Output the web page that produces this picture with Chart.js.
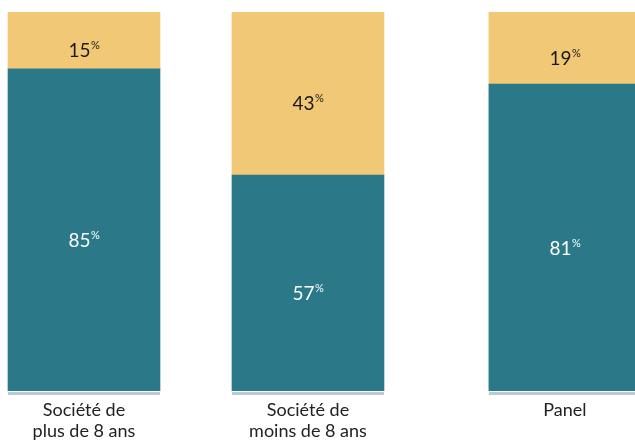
<!DOCTYPE html>
<html>
<head>
<meta charset="utf-8">
<script src="https://cdn.jsdelivr.net/npm/chart.js@4/dist/chart.umd.min.js"></script>
<style>
  html, body { margin: 0; padding: 0; background: #fff; overflow: hidden; }
  #wrap { width: 635px; height: 441px; }
</style>
</head>
<body>
<div id="wrap"><canvas id="chart" width="635" height="441"></canvas></div>
<script>
// ---- Data ----
const categories = [['Société de', 'plus de 8 ans'], ['Société de', 'moins de 8 ans'], ['Panel']];
const teal   = [85, 57, 81];
const yellow = [15, 43, 19];

// ---- Layout (slot of each bar on the x axis; the third group sits a bit apart) ----
const slot = [0, 1, 2.147];

const C_TEAL   = '#2b7889';
const C_YELLOW = '#f1c976';
const C_BASE   = '#b7ccd5';
const FONT     = 'Lato, "Noto Sans", sans-serif';

const toPoints = vals => vals.map((v, i) => ({ x: slot[i], y: v }));

// value labels with a small raised "%"
const valueLabels = {
    id: 'valueLabels',
    afterDatasetsDraw(chart) {
        const ctx = chart.ctx;
        ctx.save();
        chart.data.datasets.forEach((ds, di) => {
            const meta = chart.getDatasetMeta(di);
            meta.data.forEach((el, i) => {
                const num = String(ds.data[i].y);
                const cx = el.x;
                const cy = (el.y + el.base) / 2 + 10;
                ctx.font = '19px ' + FONT;
                const w1 = ctx.measureText(num).width;
                ctx.font = '11px ' + FONT;
                const w2 = ctx.measureText('%').width;
                const left = cx - (w1 + w2) / 2;
                ctx.fillStyle = ds.labelColor;
                ctx.textBaseline = 'alphabetic';
                ctx.textAlign = 'left';
                ctx.font = '19px ' + FONT;
                ctx.fillText(num, left, cy + 7);
                ctx.font = '11px ' + FONT;
                ctx.fillText('%', left + w1 + 0.5, cy - 1);
            });
        });
        ctx.restore();
    }
};

// thin light strip under each bar
const baseStrip = {
    id: 'baseStrip',
    afterDatasetsDraw(chart) {
        const ctx = chart.ctx;
        const meta = chart.getDatasetMeta(0);
        ctx.save();
        ctx.fillStyle = C_BASE;
        meta.data.forEach(el => {
            ctx.fillRect(el.x - el.width / 2, el.base + 1, el.width, 3);
        });
        ctx.restore();
    }
};

new Chart(document.getElementById('chart'), {
    type: 'bar',
    data: {
        datasets: [
            { data: toPoints(teal), backgroundColor: C_TEAL, labelColor: '#ffffff' },
            { data: toPoints(yellow), backgroundColor: C_YELLOW, labelColor: '#1a1a1a' }
        ]
    },
    options: {
        responsive: false,
        animation: false,
        barThickness: 152,
        layout: { padding: { top: 12, left: 0, right: 0, bottom: 0 } },
        plugins: { legend: { display: false }, tooltip: { enabled: false } },
        scales: {
            x: {
                type: 'linear',
                stacked: true,
                offset: false,
                min: -0.375,
                max: 2.46,
                grid: { display: false, drawTicks: false },
                border: { display: false },
                afterBuildTicks: s => { s.ticks = slot.map(v => ({ value: v })); },
                afterFit: s => { s.height = 50; },
                ticks: {
                    autoSkip: false,
                    maxRotation: 0,
                    padding: 9,
                    color: '#222',
                    font: { family: FONT, size: 18, lineHeight: 1.17 },
                    callback: (v, i) => categories[i]
                }
            },
            y: {
                stacked: true,
                display: false,
                min: 0,
                max: 100
            }
        }
    },
    plugins: [baseStrip, valueLabels]
});
</script>
</body>
</html>
